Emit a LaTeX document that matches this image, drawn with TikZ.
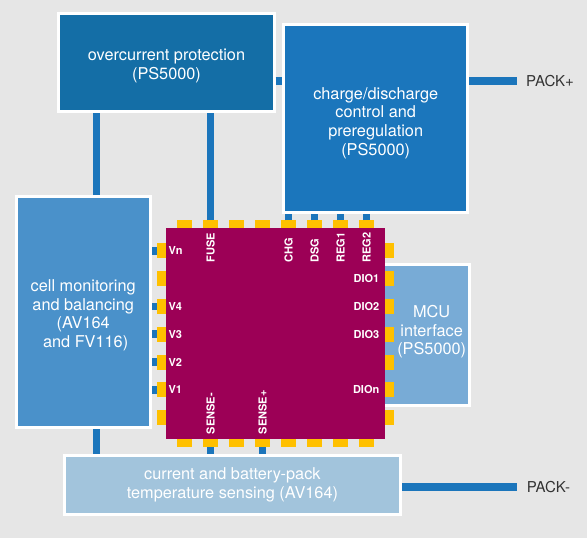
\documentclass[tikz,border=0pt]{standalone}
\usepackage{fontspec}
\setmainfont{TeX Gyre Heros}
\usetikzlibrary{positioning}

\definecolor{bggrey}{HTML}{E6E6E6}
\definecolor{ocpblue}{HTML}{146EA6}
\definecolor{chgblue}{HTML}{1B76BC}
\definecolor{cellblue}{HTML}{4A91CA}
\definecolor{mcublue}{HTML}{78ABD6}
\definecolor{curblue}{HTML}{A2C4DC}
\definecolor{chipred}{HTML}{9C0056}
\definecolor{pinyellow}{HTML}{FFC000}
\definecolor{wireblue}{HTML}{1B75BB}
\definecolor{packgrey}{HTML}{333333}

\tikzset{
  block/.style={draw=white, line width=3pt, outer sep=1.5pt, inner sep=0pt},
  blocktext/.style={text=white, align=center, inner sep=0pt,
    font=\fontsize{16.3}{18.7}\selectfont},
  wire/.style={draw=wireblue, line width=7.7pt},
  hpin/.style={fill=pinyellow, minimum width=14.7pt, minimum height=8pt,
    inner sep=0pt, outer sep=0pt},
  vpin/.style={fill=pinyellow, minimum width=9pt, minimum height=15pt,
    inner sep=0pt, outer sep=0pt},
  pinlabel/.style={text=white, inner sep=0pt, font=\fontsize{11}{13}\selectfont\bfseries},
  packlabel/.style={text=packgrey, inner sep=0pt, inner xsep=9.3pt, anchor=west,
    font=\fontsize{15}{18}\selectfont},
}

\begin{document}
\begin{tikzpicture}[x=1pt, y=-1pt]
        \fill [bggrey] (0,0) rectangle (587,538);

        \node (ocp) [block, fill=ocpblue, minimum width=215.4pt, minimum height=98pt,
          label={[blocktext, yshift=-4pt]center:{overcurrent protection\\(PS5000)}}]
          at (166.5,62.2) {};
        \node (chg) [block, fill=chgblue, minimum width=183.7pt, minimum height=188.6pt,
          label={[blocktext, yshift=-4.5pt]center:{charge/discharge\\control and\\preregulation\\(PS5000)}}]
          at (375.7,118.5) {};
        \node (cell) [block, fill=cellblue, minimum width=134pt, minimum height=231.3pt,
          label={[blocktext, yshift=-3pt]center:{cell monitoring\\and balancing\\(AV164\\\hspace*{.3em}and FV116)}}]
          at (83.2,312.2) {};
        \node (mcu) [block, fill=mcublue, minimum width=94pt, minimum height=141pt,
          label={[blocktext, xshift=9.5pt, yshift=3pt]center:{MCU\\interface\\(PS5000)}}]
          at (422.2,334.7) {};
        \node (cur) [block, fill=curblue, minimum width=336.3pt, minimum height=58.4pt,
          label={[blocktext]center:{current and battery-pack\\temperature sensing (AV164)}}]
          at (232.4,485) {};

        \node (chip) [fill=chipred, minimum width=219.3pt, minimum height=211pt,
          inner sep=0pt, outer sep=0pt] at (275.4,333.8) {};

        \foreach \i in {1,...,8} {
          \node (pT\i) [hpin] at ({158.6+26*\i},224.4) {};
          \node (pB\i) [hpin] at ({158.6+26*\i},443.3) {};
        }
        \foreach \i in {1,...,7} {
          \node (pL\i) [vpin] at (161.2,{223+27.8*\i}) {};
          \node (pR\i) [vpin] at (389.5,{223+27.8*\i}) {};
        }

        \node [pinlabel, right=2.6pt of pL1] {Vn};
        \node [pinlabel, right=2.6pt of pL3] {V4};
        \node [pinlabel, right=2.6pt of pL4] {V3};
        \node [pinlabel, right=2.6pt of pL5] {V2};
        \node [pinlabel, right=2.6pt of pL6] {V1};

        \node [pinlabel, left=5.5pt of pR2] {DIO1};
        \node [pinlabel, left=5.5pt of pR3] {DIO2};
        \node [pinlabel, left=5.5pt of pR4] {DIO3};
        \node [pinlabel, left=5.5pt of pR6] {DIOn};

        \node [pinlabel, rotate=90, anchor=west] at ([yshift=-34.4pt]pT2.south) {FUSE};
        \node [pinlabel, rotate=90, anchor=west] at ([yshift=-34.4pt]pT5.south) {CHG};
        \node [pinlabel, rotate=90, anchor=west] at ([yshift=-34.4pt]pT6.south) {DSG};
        \node [pinlabel, rotate=90, anchor=west] at ([yshift=-34.4pt]pT7.south) {REG1};
        \node [pinlabel, rotate=90, anchor=west] at ([yshift=-34.4pt]pT8.south) {REG2};

        \node [pinlabel, rotate=90, anchor=west] at ([yshift=5pt]pB2.north) {SENSE-};
        \node [pinlabel, rotate=90, anchor=west] at ([yshift=5pt]pB4.north) {SENSE+};

        \node (packp) [packlabel] at (516.7,81) {PACK+};
        \node (packm) [packlabel] at (517.3,487) {PACK-};

        \draw [wire] ([xshift=13.2pt]cell.north) -- ([xshift=13.2pt]cell.north |- ocp.south);
        \draw [wire] ([xshift=13.2pt]cell.south) -- ([xshift=13.2pt]cell.south |- cur.north);
        \draw [wire] ([yshift=-18.8pt]ocp.east) -- ([yshift=-18.8pt]ocp.east -| chg.west);

        \draw [wire] (pT2.north) -- (pT2.north |- ocp.south);
        \foreach \i in {5,...,8}
          \draw [wire] (pT\i.north) -- (pT\i.north |- chg.south);
        \draw [wire] (pB2.south) -- (pB2.south |- cur.north);
        \draw [wire] (pB4.south) -- (pB4.south |- cur.north);
        \foreach \i in {1,3,4,5,6}
          \draw [wire] (pL\i.west) -- (pL\i.west -| cell.east);

        \draw [wire] (packp.west -| chg.east) -- (packp.west);
        \draw [wire] (packm.west -| cur.east) -- (packm.west);
      \end{tikzpicture}
\end{document}
